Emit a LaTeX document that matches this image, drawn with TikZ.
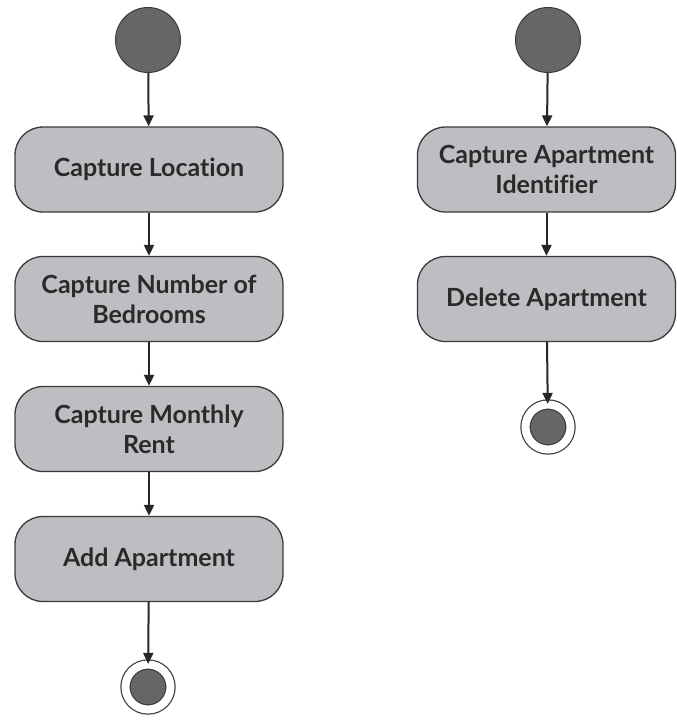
\documentclass[tikz,border=0pt]{standalone}
\usepackage{fontspec}
\setmainfont{Lato}[BoldFont={Lato Bold},Ligatures=NoCommon]
\usetikzlibrary{calc,shapes,positioning}
\usetikzlibrary{arrows.meta}

\definecolor{actfill}{HTML}{BEBEC2}
\definecolor{dotfill}{HTML}{666666}
\definecolor{edgegray}{HTML}{3A3A3A}
\definecolor{txtgray}{HTML}{2A2A2A}

\begin{document}
\begin{tikzpicture}[x=1pt,y=-1pt,>={Triangle[width=10pt,length=11pt]}]
    \tikzstyle{anode} = [draw=edgegray, line width=1.3pt, fill=actfill, rectangle, rounded corners = 28pt,
      minimum height = 85pt, inner sep = 2pt, align=center, text=txtgray,
      font=\fontsize{25}{30}\selectfont\bfseries]
    \tikzstyle{snode} = [draw=edgegray, line width=1pt, fill=dotfill, circle, minimum size = 65pt, inner sep = 0pt]
    \tikzstyle{fnode} = [draw=edgegray, line width=1.2pt, fill=dotfill, circle, minimum size = 45pt, inner sep = 0pt,
      double=white, double distance = 8pt]
    \tikzstyle{flow} = [->, line width=2pt, draw=black!85]

    \useasboundingbox (0,0) rectangle (677,720);

    % adding an apartment
    \node[snode] (s1) at (148,40) {};
    \node[anode, minimum width=268pt] (loc) at (149,169.5) {Capture Location};
    \node[anode, minimum width=268pt] (bed) at (149,299) {Capture Number of\\Bedrooms};
    \node[anode, minimum width=268pt] (rent) at (149,429) {Capture Monthly\\Rent};
    \node[anode, minimum width=268pt] (add) at (149,559) {Add Apartment};
    \node[fnode] (e1) at (148,687) {};

    \draw[flow] (s1) -- (loc);
    \draw[flow] (loc) -- (bed);
    \draw[flow] (bed) -- (rent);
    \draw[flow] (rent) -- (add);
    \draw[flow] (add) -- (e1);

    % deleting an apartment
    \node[snode] (s2) at (548,40) {};
    \node[anode, minimum width=258pt] (ident) at (546.5,169.5) {Capture Apartment\\Identifier};
    \node[anode, minimum width=258pt] (del) at (546.5,299) {Delete Apartment};
    \node[fnode] (e2) at (548,427) {};

    \draw[flow] (s2) -- (ident);
    \draw[flow] (ident) -- (del);
    \draw[flow] (del) -- (e2);
\end{tikzpicture}
\end{document}
